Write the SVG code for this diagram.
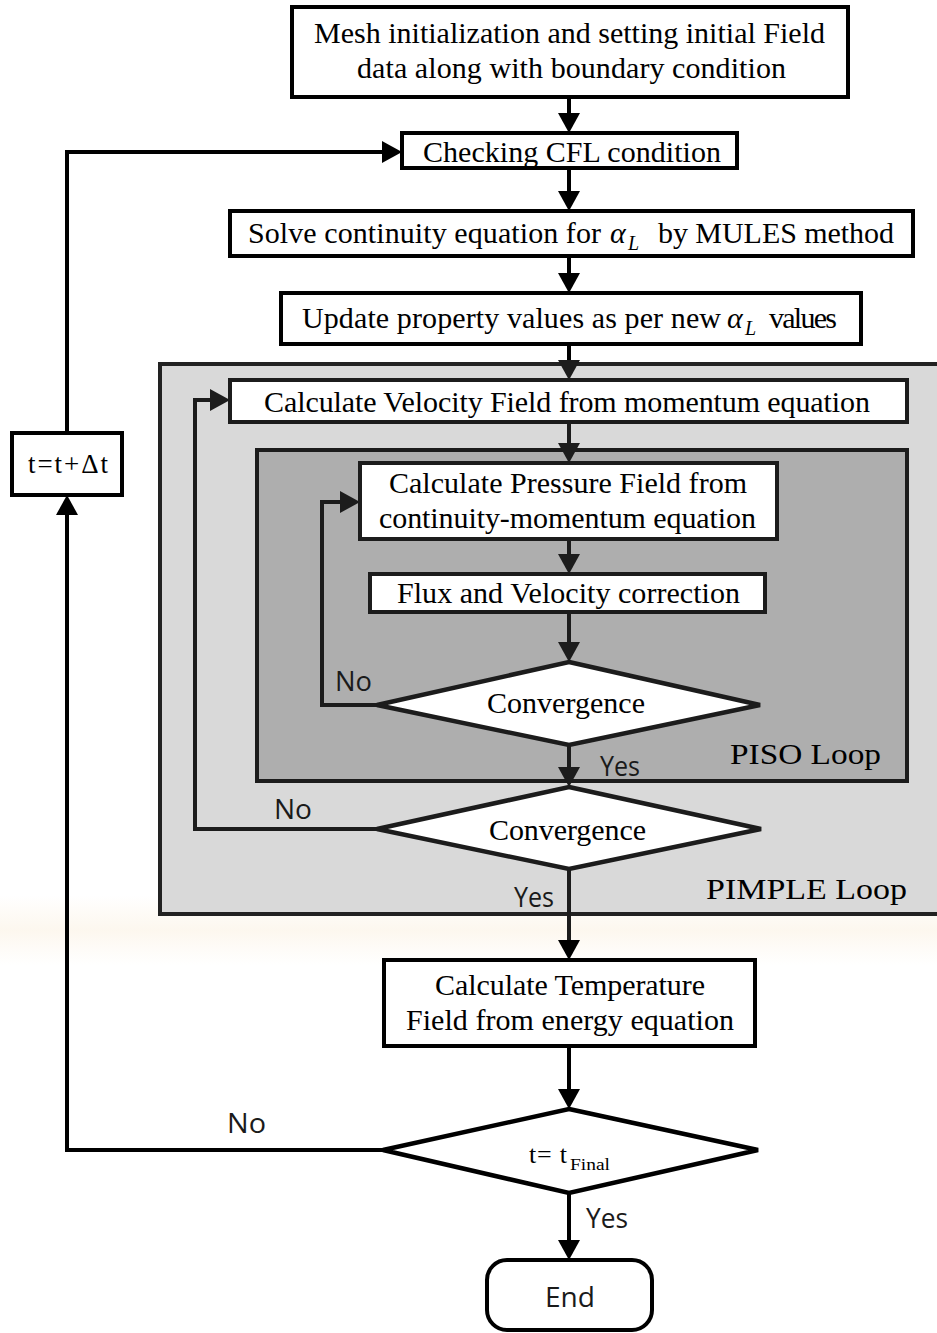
<svg xmlns="http://www.w3.org/2000/svg" width="937" height="1333" viewBox="0 0 937 1333">
<style>
.box{fill:#fff;stroke:#000;stroke-width:4}
.ibox{fill:#fff;stroke:#1c1c1c;stroke-width:4}
.dia{fill:#fff;stroke:#1c1c1c;stroke-width:4.5;stroke-linejoin:miter}
.con{fill:none;stroke:#000;stroke-width:4}
.icon{fill:none;stroke:#1c1c1c;stroke-width:4}
.t{font-family:"Liberation Serif","Times New Roman",serif;font-size:30px;fill:#000}
.tm{font-family:"Liberation Serif","Times New Roman",serif;font-size:30px;fill:#000;text-anchor:middle}
.g{font-family:"Liberation Serif","Times New Roman",serif;font-style:italic;fill:#000}
.s{font-family:"Open Sans","DejaVu Sans",sans-serif;font-size:28px;fill:#1a1a1a}
</style>
<defs>
<marker id="ah" markerUnits="userSpaceOnUse" markerWidth="20" markerHeight="22" refX="14" refY="11" orient="auto">
<path d="M0,0 L20,11 L0,22 Z" fill="#000"/>
</marker>
<marker id="ahi" markerUnits="userSpaceOnUse" markerWidth="20" markerHeight="22" refX="14" refY="11" orient="auto">
<path d="M0,0 L20,11 L0,22 Z" fill="#1c1c1c"/>
</marker>
<linearGradient id="band" x1="0" y1="0" x2="0" y2="1">
<stop offset="0" stop-color="#fbf1e1" stop-opacity="0"/>
<stop offset="0.5" stop-color="#fbf1e1" stop-opacity="0.55"/>
<stop offset="1" stop-color="#fbf1e1" stop-opacity="0"/>
</linearGradient>
</defs>
<rect x="0" y="0" width="937" height="1333" fill="#fff"/>
<rect x="0" y="895" width="937" height="70" fill="url(#band)"/>

<g id="pimple-loop">
<rect x="160" y="364" width="800" height="550" fill="#d9d9d9" stroke="#222" stroke-width="4"/>
<text class="t" x="706" y="899" textLength="201" lengthAdjust="spacingAndGlyphs">PIMPLE Loop</text>
</g>
<g id="piso-loop">
<rect x="257" y="450" width="650" height="331" fill="#aeaeae" stroke="#1c1c1c" stroke-width="4"/>
<text class="t" x="730" y="764" textLength="151" lengthAdjust="spacingAndGlyphs">PISO Loop</text>
</g>

<g id="connectors">
<path class="con" d="M569,97 V127" marker-end="url(#ah)"/>
<path class="con" d="M569,168 V205" marker-end="url(#ah)"/>
<path class="con" d="M569,256 V287" marker-end="url(#ah)"/>
<path class="con" d="M569,344 V374" marker-end="url(#ahi)"/>
<path class="icon" d="M569,422 V457" marker-end="url(#ahi)"/>
<path class="icon" d="M569,539 V568" marker-end="url(#ahi)"/>
<path class="icon" d="M569,612 V656" marker-end="url(#ahi)"/>
<path class="icon" d="M569,745 V781" marker-end="url(#ahi)"/>
<path class="icon" d="M569,869 V954" marker-end="url(#ah)"/>
<path class="con" d="M569,1046 V1103" marker-end="url(#ah)"/>
<path class="con" d="M569,1193 V1254" marker-end="url(#ah)"/>
<path class="icon" d="M377,705 H322 V502 H354" marker-end="url(#ahi)"/>
<path class="icon" d="M377,829 H195 V400 H224" marker-end="url(#ahi)"/>
<path class="con" d="M383,1150 H67 V501" marker-end="url(#ah)"/>
<path class="con" d="M67,433 V152 H396" marker-end="url(#ah)"/>
<text class="s" x="335" y="691" textLength="37" lengthAdjust="spacingAndGlyphs">No</text>
<text class="s" x="274" y="819" textLength="38" lengthAdjust="spacingAndGlyphs">No</text>
<text class="s" x="600" y="776" textLength="40" lengthAdjust="spacingAndGlyphs">Yes</text>
<text class="s" x="514" y="907" textLength="40" lengthAdjust="spacingAndGlyphs">Yes</text>
<text class="s" x="227" y="1133" textLength="39" lengthAdjust="spacingAndGlyphs">No</text>
<text class="s" x="586" y="1228" textLength="42" lengthAdjust="spacingAndGlyphs">Yes</text>
</g>

<g id="init">
<rect class="box" x="292" y="7" width="556" height="90"/>
<text class="tm" x="569.5" y="43" textLength="511">Mesh initialization  and setting initial  Field</text>
<text class="tm" x="571.5" y="78" textLength="429">data along with boundary condition</text>
</g>
<g id="cfl">
<rect class="box" x="402" y="133" width="335" height="35"/>
<text class="tm" x="572" y="162" textLength="298">Checking CFL condition</text>
</g>
<g id="solve-alpha">
<rect class="box" x="230" y="211" width="683" height="45"/>
<text class="t" x="248" y="243" textLength="353">Solve continuity equation for</text>
<text class="g" x="610" y="243" font-size="30">α</text>
<text class="g" x="628" y="250" font-size="20">L</text>
<text class="t" x="658" y="243" textLength="236">by MULES method</text>
</g>
<g id="update">
<rect class="box" x="281" y="293" width="580" height="51"/>
<text class="t" x="302" y="328" textLength="419">Update property values  as per new</text>
<text class="g" x="727" y="328" font-size="30">α</text>
<text class="g" x="745" y="335" font-size="20">L</text>
<text class="t" x="769" y="328" textLength="68">values</text>
</g>
<g id="velocity">
<rect class="ibox" x="230" y="380" width="677" height="42"/>
<text class="tm" x="567" y="412" textLength="606">Calculate  Velocity  Field  from momentum equation</text>
</g>
<g id="pressure">
<rect class="ibox" x="360" y="463" width="417" height="76"/>
<text class="tm" x="568" y="493" textLength="358">Calculate  Pressure Field  from</text>
<text class="tm" x="567.5" y="528" textLength="377">continuity-momentum  equation</text>
</g>
<g id="flux">
<rect class="ibox" x="370" y="574" width="395" height="38"/>
<text class="tm" x="568.5" y="603" textLength="343">Flux and Velocity  correction</text>
</g>
<g id="conv-piso">
<polygon class="dia" points="569,662 760,705 569,745 377,705"/>
<text class="tm" x="566" y="713" textLength="158">Convergence</text>
</g>
<g id="conv-pimple">
<polygon class="dia" points="569,787 761,829 569,869 377,829"/>
<text class="tm" x="567.5" y="840" textLength="157">Convergence</text>
</g>
<g id="temperature">
<rect class="box" x="384" y="960" width="371" height="86"/>
<text class="tm" x="570" y="995" textLength="270">Calculate  Temperature</text>
<text class="tm" x="570" y="1030" textLength="328">Field  from energy equation</text>
</g>
<g id="t-final">
<polygon class="dia" points="569,1109 758,1150 569,1193 383,1150" style="stroke:#000"/>
<text class="t" x="529" y="1163" style="font-size:26px" textLength="38">t= t</text>
<text class="t" x="570" y="1170" style="font-size:17px" textLength="40" lengthAdjust="spacingAndGlyphs">Final</text>
</g>
<g id="end">
<rect class="box" x="487" y="1260" width="165" height="70" rx="20" ry="20"/>
<text class="s" x="545" y="1307" textLength="50" lengthAdjust="spacingAndGlyphs">End</text>
</g>
<g id="t-increment">
<rect class="box" x="12" y="433" width="110" height="62"/>
<text class="t" x="28" y="473" style="font-size:27px" textLength="80">t=t+Δt</text>
</g>
</svg>
